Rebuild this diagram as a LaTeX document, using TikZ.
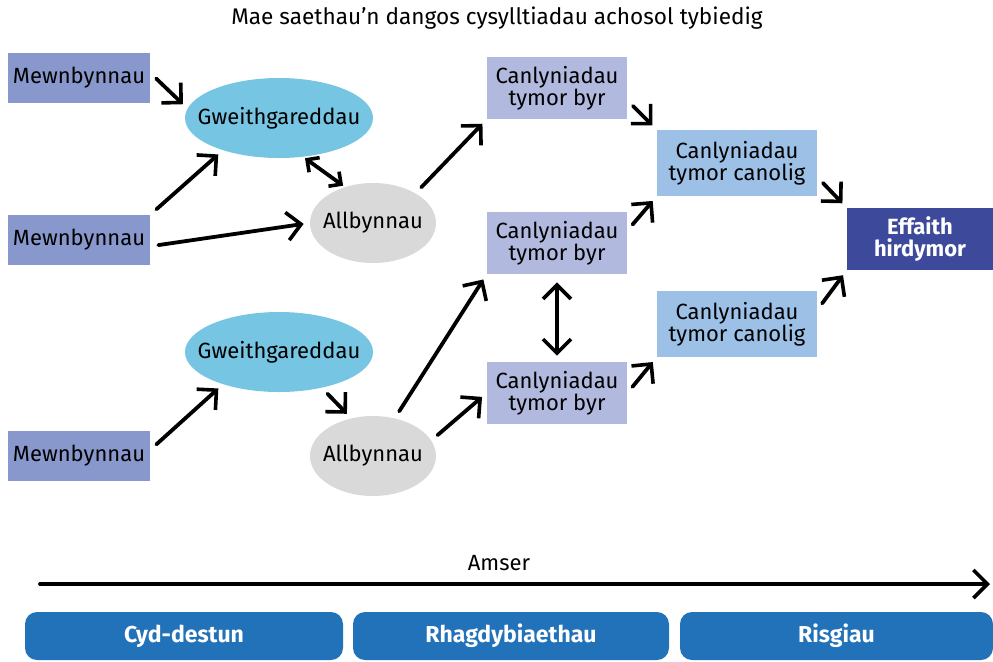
\documentclass[tikz,border=0pt]{standalone}
\usepackage{fontspec}
\setmainfont{Fira Sans}
\usetikzlibrary{arrows.meta,positioning,shapes.geometric}
\tikzset{>={Straight Barb[length=7pt,width=14pt,line width=1.8pt]}}
\usepackage{xcolor}
\definecolor{inputblue}{HTML}{8898CC}
\definecolor{actblue}{HTML}{76C5E3}
\definecolor{outgrey}{HTML}{D9D9D9}
\definecolor{shortblue}{HTML}{B1B9DF}
\definecolor{midblue}{HTML}{9DC1E6}
\definecolor{impactblue}{HTML}{3D4A9B}
\definecolor{barblue}{HTML}{2272BA}

\begin{document}
\begin{tikzpicture}
	[x=0.5pt, y=-0.5pt, on grid, inner sep=0pt, align=center,
	font=\fontsize{11}{11}\selectfont,
	inputs/.style={rectangle, fill=inputblue, minimum width=71pt, minimum height=25pt},
	activity/.style={ellipse, fill=actblue, inner xsep=-7.5pt, minimum width=94pt, minimum height=40pt},
	outputs/.style={ellipse, fill=outgrey, inner xsep=-4pt, minimum width=63pt, minimum height=40pt},
	shortterm/.style={rectangle, fill=shortblue, minimum width=70pt, minimum height=31pt},
	midterm/.style={rectangle, fill=midblue, minimum width=80pt, minimum height=33pt},
	impact/.style={rectangle, fill=impactblue, text=white, font=\fontsize{11}{11}\selectfont\bfseries, minimum width=73pt, minimum height=31pt},
	band/.style={rectangle, rounded corners=6pt, fill=barblue, text=white, font=\fontsize{11.5}{11.5}\selectfont\bfseries, minimum height=24pt},
	link/.style={line width=1.9pt, line cap=round, shorten <=4pt, shorten >=3pt},
	shortlink/.style={line width=1.9pt, line cap=round, shorten <=1pt, shorten >=1pt,
		>={Straight Barb[length=4.5pt,width=9pt,line width=1.8pt]}}]
	
	\useasboundingbox (0,0) rectangle (993,661);
	
	\node[font=\fontsize{11.3}{11.3}\selectfont] (title) at (497,18) {Mae saethau'n dangos cysylltiadau achosol tybiedig};
	
	\node[inputs]    (mew_a)  at (79,78) 							   {Mewnbynnau};
	\node[inputs]    (mew_b)  [below=81pt of mew_a] 				   {Mewnbynnau};
	\node[inputs]    (mew_c)  [below=108pt of mew_b] 				   {Mewnbynnau};
	
	\node[activity]  (gweith_a) [below right=20pt and 100pt of mew_a]  {Gweithgareddau};
	\node[outputs]   (allb_a)   [above right=8.5pt and 147pt of mew_b] {Allbynnau};
	\node[activity]  (gweith_b) [above right=52pt and 100pt of mew_c]  {Gweithgareddau};
	\node[outputs]   (allb_b)   [right=147pt of mew_c] 				   {Allbynnau};
	
	\node[shortterm] (byr_b)  [below right=10pt and 92pt of allb_a]   {Canlyniadau\\tymor byr};
	\node[shortterm] (byr_a)  [above=77.5pt of byr_b] 			       {Canlyniadau\\tymor byr};
	\node[shortterm] (byr_c)  [below=75pt of byr_b] 				   {Canlyniadau\\tymor byr};
	
	\node[midterm]   (canol_a) [above right=40pt and 90pt of byr_b]   {Canlyniadau\\tymor canolig};
	\node[midterm]   (canol_b) [below=80.5pt of canol_a] 			   {Canlyniadau\\tymor canolig};
	
	\node[impact]    (effaith) [below right=38pt and 91.5pt of canol_a] {Effaith\\hirdymor};
	
	% llinell amser
	\coordinate (time_start) at (40,584);
	\coordinate (time_end)   at (990,584);
	\node (amser) at (499,563) {Amser};
	
	\node[band, minimum width=159pt]   (cyd)    at (184,636) {Cyd-destun};
	\node[band, minimum width=158pt]   (rhag)   at (511,636) {Rhagdybiaethau};
	\node[band, minimum width=156.5pt] (risg)   at (836.5,636) {Risgiau};
	
	
	\draw [link, ->]       (mew_a.4)          to (gweith_a.174);
	\draw [link, ->]       (mew_b.north east) to (gweith_a.210);
	\draw [link, ->]       (mew_b.-5)         to (allb_a.west);
	\draw [shortlink, <->] (gweith_a.-58)     to (allb_a.128);
	\draw [link, ->]       (allb_a.35)        to (byr_a.south west);
	\draw [link, ->]       (byr_a.-10)        to (canol_a.north west);
	\draw [link, ->]       (byr_b.10)         to (canol_a.south west);
	\draw [link, ->]       (canol_a.-10)      to (effaith.north west);
	\draw [link, ->]       (canol_b.10)       to (effaith.south west);
	\draw [link, <->]      (byr_b.south)      to (byr_c.north);
	\draw [link, ->]       (mew_c.5)          to (gweith_b.210);
	\draw [link, ->]       (gweith_b.-40)     to (allb_b.120);
	\draw [link, ->]       (allb_b.60)        to (byr_b.south west);
	\draw [link, ->]       (allb_b.15)        to (byr_c.west);
	\draw [link, ->]       (byr_c.east)       to (canol_b.south west);
	\draw [line width=1.9pt, line cap=round, ->] (time_start) to (time_end);
\end{tikzpicture}
\end{document}
